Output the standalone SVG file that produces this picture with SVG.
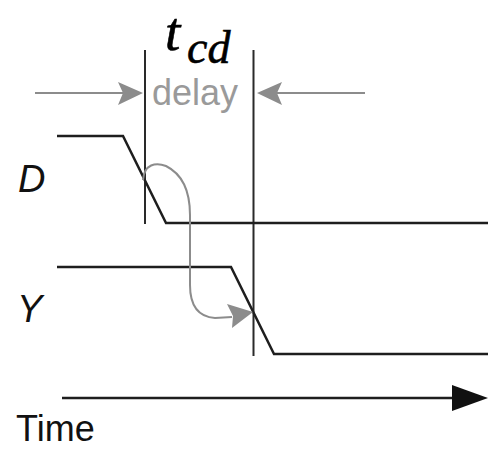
<svg xmlns="http://www.w3.org/2000/svg" width="488" height="449" viewBox="0 0 488 449">
<style>
.sig{fill:none;stroke:#1e1e1e;stroke-width:2.5}
.vl{fill:none;stroke:#2a2a2a;stroke-width:2}
.gr{fill:none;stroke:#8c8c8c;stroke-width:2}
.gh{fill:#8c8c8c}
.lbl{font-family:"Liberation Sans",Arial,sans-serif;fill:#111}
.math{font-family:"Liberation Serif","DejaVu Serif",serif;font-style:italic;fill:#000;stroke:#000;stroke-width:0.6}
</style>
<rect width="488" height="449" fill="#fff"/>
<g id="title">
<text class="math" x="165" y="50" font-size="55">t</text>
<text class="math" x="187" y="63" font-size="46">cd</text>
</g>
<g id="markers">
<line class="vl" x1="145" y1="50" x2="145" y2="224"/>
<line class="vl" x1="253.5" y1="50" x2="253.5" y2="356"/>
</g>
<g id="delay">
<line class="gr" x1="35" y1="93" x2="124" y2="93"/>
<polygon class="gh" points="143,93 118,82 123,93 118,105"/>
<line class="gr" x1="276" y1="93" x2="365" y2="93"/>
<polygon class="gh" points="257,93 282,82 277,93 282,105"/>
<text x="152" y="105" font-family="'Liberation Sans',Arial,sans-serif" font-size="36" fill="#9a9a9a">delay</text>
</g>
<g id="D">
<text class="lbl" x="18" y="192" font-size="38" font-style="italic">D</text>
<polyline class="sig" points="57,136 123,136 166,223 488,223"/>
</g>
<g id="Y">
<text class="lbl" x="17" y="322" font-size="38" font-style="italic">Y</text>
<polyline class="sig" points="57,267 231,267 274,354 488,354"/>
</g>
<g id="connectors">
<path class="gr" d="M143,180 C144,164 156,162 166,166 C182,174 190,190 190,215 L190,285 C190,308 200,317 215,318 L232,317"/>
<polygon class="gh" points="253,312 227,304 233,316 232,328"/>
</g>
<g id="time">
<line class="sig" x1="62" y1="398" x2="455" y2="398"/>
<polygon fill="#111" points="488,398 452,385 452,411"/>
<text class="lbl" x="16" y="441" font-size="36">Time</text>
</g>
</svg>
